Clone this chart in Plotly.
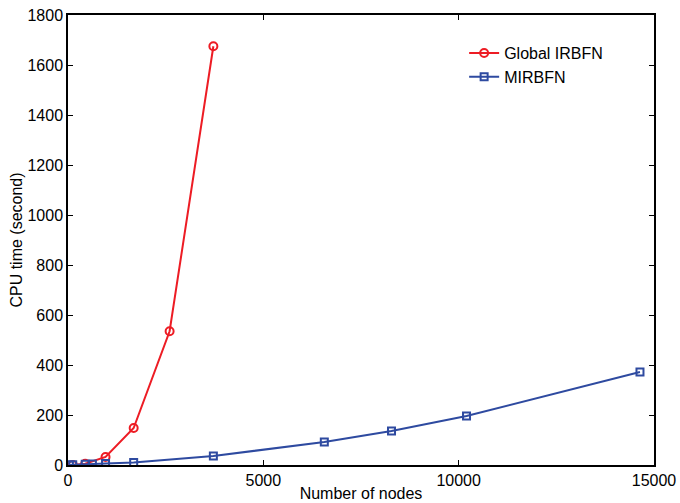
import plotly.graph_objects as go

# Number of nodes and CPU time (seconds) for each method
global_nodes = [121, 441, 961, 1681, 2601, 3721]
global_cpu = [0.5, 5, 32, 148, 535, 1675]

mirbfn_nodes = [36, 121, 441, 625, 961, 1681, 3721, 6561, 8281, 10201, 14641]
mirbfn_cpu = [0.3, 1, 3, 4, 6, 10, 36, 92, 136, 196, 372]

x_ticks = [0, 5000, 10000, 15000]
y_ticks = [0, 200, 400, 600, 800, 1000, 1200, 1400, 1600, 1800]

RED = "rgb(237,28,36)"
BLUE = "rgb(46,74,160)"
FONT = "Liberation Sans, Arial, sans-serif"
FS = 16

fig = go.Figure()
fig.add_trace(go.Scatter(
    x=global_nodes, y=global_cpu, name="Global IRBFN",
    mode="lines+markers",
    line=dict(color=RED, width=2),
    marker=dict(symbol="circle-open", size=8, color=RED, line=dict(width=2)),
))
fig.add_trace(go.Scatter(
    x=mirbfn_nodes, y=mirbfn_cpu, name="MIRBFN",
    mode="lines+markers",
    line=dict(color=BLUE, width=2),
    marker=dict(symbol="square-open", size=7, color=BLUE, line=dict(width=2)),
))

axis_common = dict(
    showline=True, linecolor="black", linewidth=1.5, mirror="ticks",
    ticks="inside", ticklen=5, tickwidth=1, tickcolor="black",
    showgrid=False, zeroline=False, automargin=False,
    tickfont=dict(family=FONT, size=FS, color="black"),
)

fig.update_layout(
    width=680, height=503,
    margin=dict(l=68, r=26, t=15, b=38),
    paper_bgcolor="white", plot_bgcolor="white",
    font=dict(family=FONT, size=FS, color="black"),
    xaxis=dict(
        range=[0, 15000], tickvals=x_ticks, ticktext=[str(v) for v in x_ticks],
        title=dict(text="Number of nodes", font=dict(family=FONT, size=FS), standoff=0),
        **axis_common,
    ),
    yaxis=dict(
        range=[0, 1800], tickvals=y_ticks, ticktext=[str(v) for v in y_ticks],
        title=dict(text="CPU time (second)", font=dict(family=FONT, size=FS), standoff=1),
        **axis_common,
    ),
    legend=dict(
        x=0.676, y=0.953, xanchor="left", yanchor="top",
        bgcolor="rgba(0,0,0,0)", borderwidth=0,
        font=dict(family=FONT, size=FS), tracegroupgap=0,
        itemwidth=30,
    ),
    showlegend=True,
)

fig.write_html("out.html")
